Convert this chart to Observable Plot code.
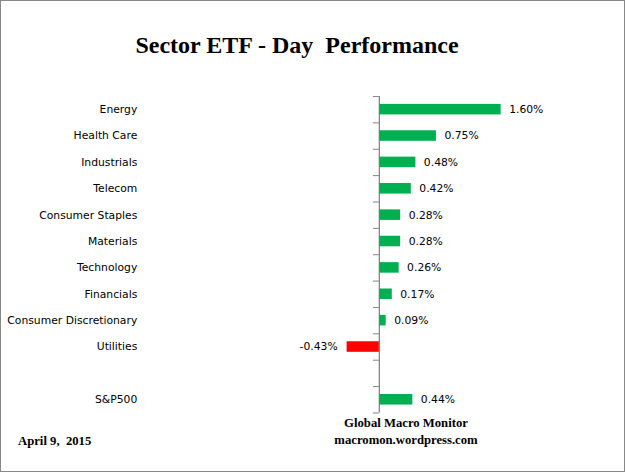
<!DOCTYPE html>
<html>
<head>
<meta charset="utf-8">
<script src="https://cdn.jsdelivr.net/npm/d3@7"></script>
<script src="https://cdn.jsdelivr.net/npm/@observablehq/plot@0.6"></script>
<style>
  html, body { margin: 0; padding: 0; background: #fff; }
  #wrap { position: relative; width: 625px; height: 472px; box-sizing: border-box; border: 1px solid #888; overflow: hidden; background: #fff; }
  .serif { font-family: "Liberation Serif", "Times New Roman", serif; font-weight: bold; color: #000; position: absolute; white-space: nowrap; line-height: 1; }
  #title { font-size: 24px; left: 0; width: 592px; text-align: center; top: 32px; }
  #chart { position: absolute; left: -1px; top: 79px; }
  #f1 { font-size: 12.7px; left: 305px; width: 200px; text-align: center; top: 416px; }
  #f2 { font-size: 12.7px; left: 305px; width: 200px; text-align: center; top: 433px; }
  #date { font-size: 12.7px; left: 17px; top: 434px; }
</style>
</head>
<body>
<div id="wrap">
  <div id="title" class="serif">Sector ETF - Day&nbsp; Performance</div>
  <div id="chart"></div>
  <div id="f1" class="serif">Global Macro Monitor</div>
  <div id="f2" class="serif">macromon.wordpress.com</div>
  <div id="date" class="serif">April 9,&nbsp; 2015</div>
</div>
<script>
const categories = ["Energy", "Health Care", "Industrials", "Telecom", "Consumer Staples", "Materials", "Technology", "Financials", "Consumer Discretionary", "Utilities", "", "S&P500"];
const values = [1.60, 0.75, 0.48, 0.42, 0.28, 0.28, 0.26, 0.17, 0.09, -0.43, null, 0.44];

const data = categories.map((name, i) => ({name, i, value: values[i]})).filter(d => d.value != null);
const pos = data.filter(d => d.value >= 0);
const neg = data.filter(d => d.value < 0);
const fmt = v => v.toFixed(2) + "%";

const chart = Plot.plot({
  width: 625,
  height: 340,
  marginLeft: 140,
  marginRight: 0,
  marginTop: 16,
  marginBottom: 7,
  style: {fontFamily: "DejaVu Sans", fontSize: "10.8px", color: "#000", background: "transparent"},
  x: {domain: [-3.14, 3.22], axis: null},
  y: {domain: [-0.5, 11.5], reverse: true, axis: null},
  marks: [
    Plot.axisY({ticks: d3.range(categories.length), tickFormat: i => categories[i], tickSize: 0, tickPadding: 3, label: null, fill: "#000"}),
    Plot.axisY({ticks: d3.range(categories.length + 1).map(k => k - 0.5), tickSize: 6, tickFormat: () => "", dx: 239.5, stroke: "#868686", label: null}),
    Plot.ruleX([0], {stroke: "#868686", strokeWidth: 1.3}),
    Plot.rectX(data, {x1: 0, x2: "value", y1: d => d.i - 0.2, y2: d => d.i + 0.2, insetLeft: 0.5, fill: d => d.value >= 0 ? "#00B050" : "#FF0000"}),
    Plot.text(pos, {x: "value", y: "i", text: d => fmt(d.value), textAnchor: "start", dx: 8, fill: "#000"}),
    Plot.text(neg, {x: "value", y: "i", text: d => fmt(d.value), textAnchor: "end", dx: -9, fill: "#000"})
  ]
});
document.getElementById("chart").appendChild(chart);
</script>
</body>
</html>
